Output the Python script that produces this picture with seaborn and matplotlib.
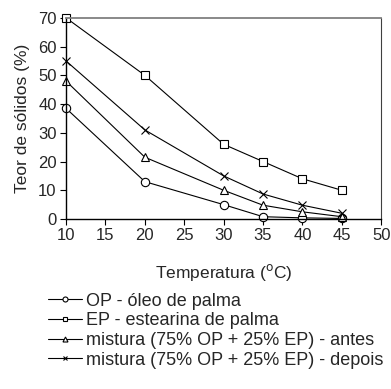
import numpy as np
import pandas as pd
import seaborn as sns
from matplotlib import pyplot as plt

temps = [10, 20, 30, 35, 40, 45]
op_oleo = [38.5, 13, 5, 0.8, 0.4, 0.2]
ep_estearina = [70, 50, 26, 20, 14, 10]
mistura_antes = [48, 21.5, 10, 4.8, 2.5, 0.8]
mistura_depois = [55, 31, 15, 8.7, 4.8, 2.0]

labels = [
    "OP - óleo de palma",
    "EP - estearina de palma",
    "mistura (75% OP + 25% EP) - antes",
    "mistura (75% OP + 25% EP) - depois",
]
series = [op_oleo, ep_estearina, mistura_antes, mistura_depois]
marker_list = ["o", "s", "^", "x"]

sns.set_style("white")
plt.rcParams["font.family"] = ["Liberation Sans", "DejaVu Sans"]

fig = plt.figure(figsize=(3.91, 3.89), dpi=100)
ax = fig.add_axes([0.169, 0.437, 0.806, 0.517])

for lab, vals, mk in zip(labels, series, marker_list):
    df = pd.DataFrame({"Temperatura": temps, "Teor": vals})
    sns.lineplot(data=df, x="Temperatura", y="Teor", ax=ax, color="black",
                 linewidth=0.8, marker=mk, markersize=6,
                 markerfacecolor="white", markeredgecolor="black",
                 markeredgewidth=0.8, label=lab, clip_on=False)

ax.set_xlim(10, 50)
ax.set_ylim(0, 70)
ax.set_xticks(range(10, 51, 5))
ax.set_yticks(range(0, 71, 10))
ax.tick_params(axis="both", labelsize=12, length=4.3, width=0.8, color="black",
               direction="out", bottom=True, left=True, pad=2.5)
ax.set_xlabel("Temperatura ($^{\\mathrm{o}}$C)", fontsize=12.5, labelpad=13)
ax.set_ylabel("Teor de sólidos (%)", fontsize=12.5, labelpad=6)

for side in ["left", "bottom"]:
    ax.spines[side].set_color("black")
    ax.spines[side].set_linewidth(1.0)
ax.spines["top"].set_color("#808080")
ax.spines["top"].set_linewidth(1.3)
ax.spines["right"].set_color("#404040")
ax.spines["right"].set_linewidth(0.8)

ax.legend(loc="upper left", bbox_to_anchor=(0.122, 0.248), bbox_transform=fig.transFigure,
          frameon=False, fontsize=13, handlelength=1.9, handletextpad=0.2,
          labelspacing=0.15, markerscale=0.6, borderpad=0, borderaxespad=0)

fig.savefig("out.png", dpi=100)
